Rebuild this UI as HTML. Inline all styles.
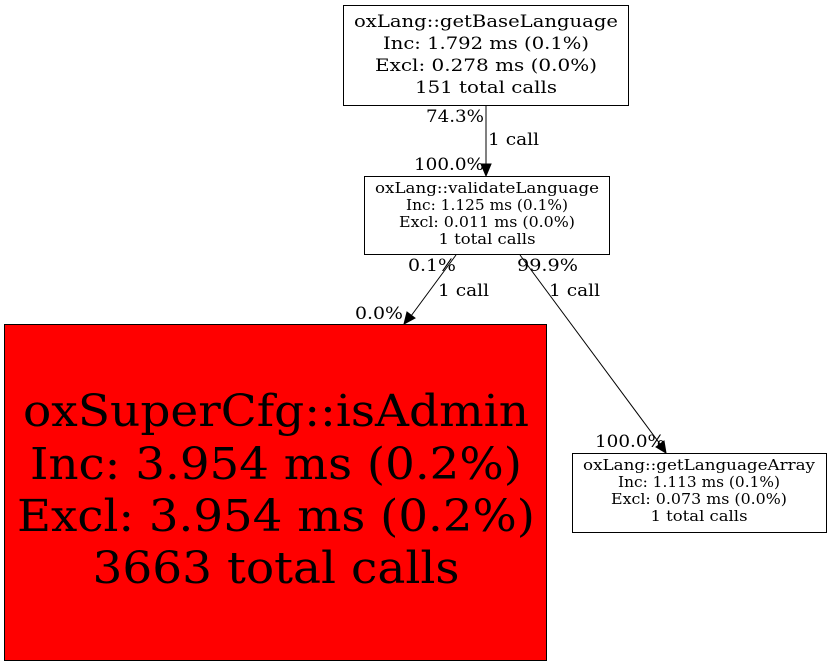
<!DOCTYPE html>
<html><head><meta charset="utf-8"><style>
html,body{margin:0;padding:0;background:#fff;}
svg{display:block;}
text{font-family:"DejaVu Serif","Liberation Serif",serif;fill:#000;}
</style></head><body>
<svg width="831" height="667" viewBox="0 0 831 667" xmlns="http://www.w3.org/2000/svg">
<rect x="343.5" y="5.5" width="285" height="100" fill="#fff" stroke="#000"/>
<g font-size="17" text-anchor="middle">
<text x="486" y="27" textLength="264" lengthAdjust="spacingAndGlyphs">oxLang::getBaseLanguage</text>
<text x="486" y="49" textLength="206" lengthAdjust="spacingAndGlyphs">Inc: 1.792 ms (0.1%)</text>
<text x="486" y="71" textLength="222" lengthAdjust="spacingAndGlyphs">Excl: 0.278 ms (0.0%)</text>
<text x="486" y="93" textLength="142" lengthAdjust="spacingAndGlyphs">151 total calls</text>
</g>
<line x1="486" y1="106" x2="486" y2="165" stroke="#000"/>
<polygon points="481,164 491,164 486,176" fill="#000" stroke="#000"/>
<g font-size="17">
<text x="426" y="122" textLength="58" lengthAdjust="spacingAndGlyphs">74.3%</text>
<text x="488" y="145" textLength="51" lengthAdjust="spacingAndGlyphs">1 call</text>
<text x="414" y="170" textLength="70" lengthAdjust="spacingAndGlyphs">100.0%</text>
</g>
<rect x="364.5" y="176.5" width="245" height="78" fill="#fff" stroke="#000"/>
<g font-size="14.5" text-anchor="middle">
<text x="487" y="193" textLength="224" lengthAdjust="spacingAndGlyphs">oxLang::validateLanguage</text>
<text x="487" y="210" textLength="162" lengthAdjust="spacingAndGlyphs">Inc: 1.125 ms (0.1%)</text>
<text x="487" y="227" textLength="176" lengthAdjust="spacingAndGlyphs">Excl: 0.011 ms (0.0%)</text>
<text x="487" y="244" textLength="97" lengthAdjust="spacingAndGlyphs">1 total calls</text>
</g>
<line x1="456" y1="255" x2="411" y2="316" stroke="#000"/>
<polygon points="407,312 415,318 404,324" fill="#000" stroke="#000"/>
<line x1="520" y1="255" x2="660" y2="444" stroke="#000"/>
<polygon points="656,447 664,441 666,453" fill="#000" stroke="#000"/>
<g font-size="17">
<text x="408" y="271" textLength="48" lengthAdjust="spacingAndGlyphs">0.1%</text>
<text x="438" y="296" textLength="51" lengthAdjust="spacingAndGlyphs">1 call</text>
<text x="355" y="319" textLength="48" lengthAdjust="spacingAndGlyphs">0.0%</text>
<text x="517" y="271" textLength="61" lengthAdjust="spacingAndGlyphs">99.9%</text>
<text x="549" y="296" textLength="51" lengthAdjust="spacingAndGlyphs">1 call</text>
<text x="595" y="447" textLength="70" lengthAdjust="spacingAndGlyphs">100.0%</text>
</g>
<rect x="4.5" y="324.5" width="542" height="336" fill="#ff0000" stroke="#000"/>
<g font-size="44" text-anchor="middle">
<text x="276" y="426" textLength="506" lengthAdjust="spacingAndGlyphs">oxSuperCfg::isAdmin</text>
<text x="276" y="479" textLength="492" lengthAdjust="spacingAndGlyphs">Inc: 3.954 ms (0.2%)</text>
<text x="276" y="531" textLength="518" lengthAdjust="spacingAndGlyphs">Excl: 3.954 ms (0.2%)</text>
<text x="276" y="583" textLength="367" lengthAdjust="spacingAndGlyphs">3663 total calls</text>
</g>
<rect x="572.5" y="453.5" width="254" height="79" fill="#fff" stroke="#000"/>
<g font-size="14.5" text-anchor="middle">
<text x="699" y="470" textLength="232" lengthAdjust="spacingAndGlyphs">oxLang::getLanguageArray</text>
<text x="699" y="487" textLength="162" lengthAdjust="spacingAndGlyphs">Inc: 1.113 ms (0.1%)</text>
<text x="699" y="504" textLength="176" lengthAdjust="spacingAndGlyphs">Excl: 0.073 ms (0.0%)</text>
<text x="699" y="521" textLength="97" lengthAdjust="spacingAndGlyphs">1 total calls</text>
</g>
</svg>
</body></html>
